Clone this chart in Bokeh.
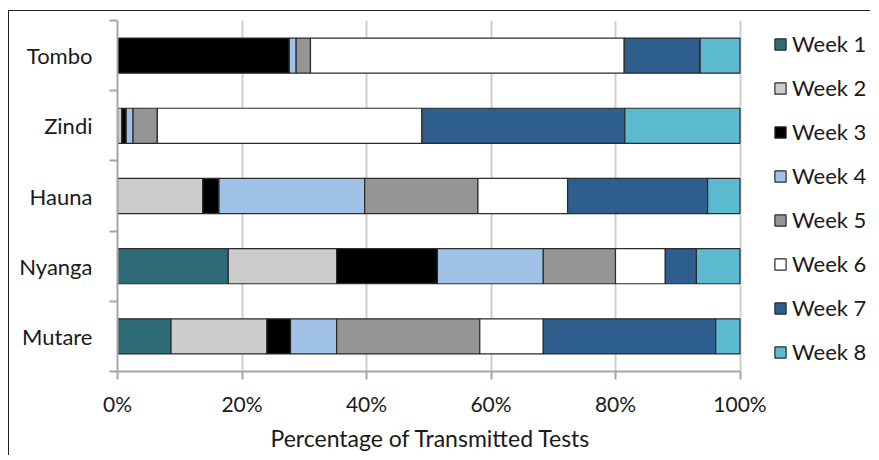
from bokeh.plotting import figure
from bokeh.models import (Range1d, FixedTicker, PrintfTickFormatter, ColumnDataSource,
                          Legend, LegendItem, Title)
from bokeh.embed import file_html
from bokeh.resources import INLINE

categories = ["Tombo", "Zindi", "Hauna", "Nyanga", "Mutare"]
weeks = ["Week 1", "Week 2", "Week 3", "Week 4", "Week 5", "Week 6", "Week 7", "Week 8"]
week1 = [0, 0, 0, 17.8, 8.6]
week2 = [0, 0.7, 13.7, 17.4, 15.4]
week3 = [27.6, 0.7, 2.6, 16.2, 3.8]
week4 = [1.1, 1.1, 23.4, 17.0, 7.4]
week5 = [2.3, 3.9, 18.2, 11.6, 23.0]
week6 = [50.4, 42.5, 14.4, 8.0, 10.2]
week7 = [12.2, 32.6, 22.5, 5.0, 27.7]
week8 = [6.4, 18.5, 5.2, 7.0, 3.9]
x_ticks = [0, 20, 40, 60, 80, 100]
x_title = "Percentage of Transmitted Tests"

colors = ["#2d6b76", "#cccccc", "#000000", "#9fc2e6", "#959595", "#ffffff", "#2d5e8e", "#5bbad0"]
FONT = "Lato"

# layout (pixels)
W, H = 862, 445
LEFT, TOP, BOTTOM = 108, 9, 85
AXIS_PX = 622.5          # pixel length of the 0..100% axis
frame_w = W - LEFT
x_max = 100.0 * frame_w / AXIS_PX   # frame extends past 100% to host the legend

n = len(categories)
ypos = [n - i - 0.5 for i in range(n)]
data = {"y": ypos}
for w, vals in zip(weeks, [week1, week2, week3, week4, week5, week6, week7, week8]):
    data[w] = vals
source = ColumnDataSource(data)

p = figure(width=W, height=H, output_backend="svg", toolbar_location=None,
           x_range=Range1d(0, x_max), y_range=Range1d(0, n),
           min_border_left=LEFT, min_border_right=0, min_border_top=TOP, min_border_bottom=BOTTOM)
p.styles = {"border-left": "1px solid #222", "border-top": "1px solid #222",
            "margin-top": "10px", "margin-left": "8px"}
p.outline_line_color = None
p.background_fill_color = "white"
p.border_fill_color = "white"

renderers = p.hbar_stack(weeks, y="y", height=0.5, source=source, color=colors,
                         line_color="#2b2b2b", line_width=1.2)

# x axis
p.xaxis.bounds = (0, 100)
p.xaxis.ticker = FixedTicker(ticks=x_ticks)
p.xaxis.formatter = PrintfTickFormatter(format="%d%%")
p.xaxis.axis_line_color = "#a6a6a6"
p.xaxis.axis_line_width = 2
p.xaxis.major_tick_line_color = "#a6a6a6"
p.xaxis.major_tick_line_width = 2
p.xaxis.major_tick_out = 8
p.xaxis.major_tick_in = 0
p.xaxis.minor_tick_line_color = None
p.xaxis.major_label_text_font = FONT
p.xaxis.major_label_text_font_size = "21px"
p.xaxis.major_label_text_color = "#1a1a1a"
p.xaxis.major_label_standoff = 11

# axis title centred under the 0..100% span
title = Title(text=x_title, align="left", offset=153, standoff=6,
              text_font=FONT, text_font_size="23px", text_font_style="normal",
              text_color="#1a1a1a")
p.add_layout(title, "below")

# y axis: labels at centers, ticks at boundaries (minor)
p.yaxis.ticker = FixedTicker(ticks=ypos, minor_ticks=list(range(n + 1)))
p.yaxis.major_label_overrides = {y: c for y, c in zip(ypos, categories)}
p.yaxis.axis_line_color = "#a6a6a6"
p.yaxis.axis_line_width = 2
p.yaxis.major_tick_line_color = None
p.yaxis.major_tick_out = 0
p.yaxis.major_tick_in = 0
p.yaxis.minor_tick_line_color = "#a6a6a6"
p.yaxis.minor_tick_line_width = 2
p.yaxis.minor_tick_out = 8
p.yaxis.minor_tick_in = 0
p.yaxis.major_label_text_font = FONT
p.yaxis.major_label_text_font_size = "22px"
p.yaxis.major_label_text_color = "#1a1a1a"
p.yaxis.major_label_standoff = 17

p.xgrid.ticker = FixedTicker(ticks=x_ticks)
p.xgrid.bounds = (0, 100)
p.xgrid.grid_line_color = "#cfcfcf"
p.xgrid.grid_line_width = 2
p.ygrid.grid_line_color = None

legend = Legend(items=[LegendItem(label=w, renderers=[r]) for w, r in zip(weeks, renderers)],
                location=(656, 6), orientation="vertical")
legend.label_text_font = FONT
legend.label_text_font_size = "22px"
legend.label_text_color = "#1a1a1a"
legend.glyph_width = 14
legend.glyph_height = 14
legend.label_height = 21
legend.label_standoff = 5
legend.spacing = 17
legend.padding = 0
legend.margin = 0
legend.border_line_color = None
legend.background_fill_alpha = 0
p.add_layout(legend, "center")

open("out.html", "w").write(file_html(p, INLINE))
